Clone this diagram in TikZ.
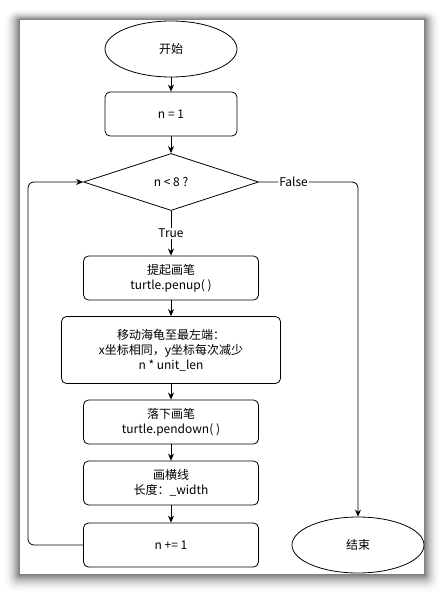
\documentclass[tikz,border=0pt]{standalone}
\usepackage{fontspec}
\setmainfont{Noto Sans CJK SC}
\usetikzlibrary{arrows.meta, positioning, shapes.geometric}

\tikzset{
  process/.style={draw, rounded corners=5pt, minimum width=175pt, minimum height=44pt,
    align=center, inner sep=2pt},
  terminal/.style={draw, ellipse, minimum width=132pt, minimum height=56pt, inner sep=0pt},
  decision/.style={draw, diamond, minimum width=175pt, minimum height=57pt, inner sep=0pt},
  edgelabel/.style={fill=white, inner sep=1pt}
}

\begin{document}
\begin{tikzpicture}[x=1pt, y=-1pt, ->, >={Stealth[length=7pt, width=6pt]},
    line width=0.8pt, font=\fontsize{12}{15}\selectfont]
    \useasboundingbox (0,0) rectangle (444,594);
    % soft shadow round the page, outer rings first
    \foreach \i in {24,...,1} {
        \pgfmathsetmacro\g{55*(1-\i/25)^2}
        \fill[black!\g, draw=none, rounded corners=\i*0.6pt]
            (20-0.7*\i,20-0.45*\i) rectangle (424+0.7*\i,574+0.8*\i);
    }
    \fill[white, draw=none] (20,20) rectangle (424,574);
    % nodes, top to bottom
    \node[terminal] (start) at (171,49) {开始};
    \node[process, minimum width=132pt] (init) at (171,114) {n = 1};
    \node[decision] (cond) at (171,182) {n < 8 ?};
    \node[process] (penup) at (171,278) {提起画笔\\turtle.penup( )};
    \node[process, minimum width=219pt, minimum height=67pt] (move) at (171,350)
        {移动海龟至最左端：\\x坐标相同，y坐标每次减少\\n * unit\_len};
    \node[process] (pendown) at (171,422) {落下画笔\\turtle.pendown( )};
    \node[process] (line) at (171,483) {画横线\\长度：\_width};
    \node[process] (inc) at (171,545) {n += 1};
    \node[terminal] (stop) at (358,545) {结束};
    \coordinate (loop) at (28,182);
    % connectors
    \draw (start) -- (init);
    \draw (init) -- (cond);
    \draw (cond.south) -- node[edgelabel] {True} (penup);
    \draw (penup) -- (move);
    \draw (move) -- (pendown);
    \draw (pendown) -- (line);
    \draw (line) -- (inc);
    \draw[rounded corners=6pt] (inc.west) -| (loop) -- (cond.west);
    \draw[rounded corners=6pt] (cond.east) -| node[edgelabel, pos=0.175] {False} (stop.north);
\end{tikzpicture}
\end{document}
